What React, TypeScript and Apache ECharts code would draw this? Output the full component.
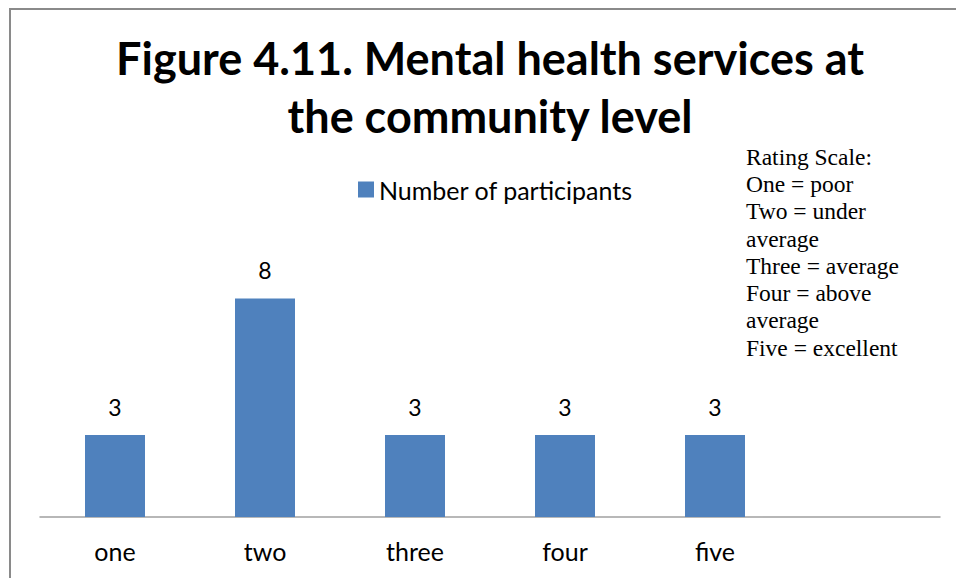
import React, { useEffect, useRef } from "react";
import * as echarts from "echarts";

const categories: string[] = ["one", "two", "three", "four", "five", ""];
const participants: (number | null)[] = [3, 8, 3, 3, 3, null];
const seriesName = "Number of participants";
const titleLines: string[] = ["Figure 4.11. Mental health services at", "the community level"];
const ratingScaleLines: string[] = [
  "Rating Scale:",
  "One = poor",
  "Two = under",
  "average",
  "Three = average",
  "Four = above",
  "average",
  "Five = excellent",
];

export default function App() {
  const ref = useRef<HTMLDivElement>(null);
  useEffect(() => {
    document.body.style.margin = "0";
    if (!ref.current) return;
    const chart = echarts.init(ref.current, null, { renderer: "svg" });
    chart.setOption({
      animation: false,
      backgroundColor: "#ffffff",
      title: {
        text: titleLines.join("\n"),
        left: 490,
        top: 29,
        textAlign: "center",
        padding: 0,
        textStyle: {
          fontFamily: "Lato",
          fontWeight: "bold",
          fontSize: 45,
          lineHeight: 58,
          color: "#000000",
        },
      },
      legend: {
        data: [seriesName],
        left: 358,
        top: 177,
        padding: 0,
        icon: "rect",
        itemWidth: 16,
        itemHeight: 16,
        itemGap: 5,
        textStyle: { fontFamily: "Lato", fontSize: 25, color: "#000000" },
      },
      grid: { left: 40, right: 16, top: 244, bottom: 61, containLabel: false },
      xAxis: {
        type: "category",
        data: categories,
        axisLine: { show: true, lineStyle: { color: "#a0a0a0", width: 1.5 } },
        axisTick: { show: false },
        axisLabel: { fontFamily: "Lato", fontSize: 25, color: "#000000", margin: 21, interval: 0 },
      },
      yAxis: {
        type: "value",
        min: 0,
        max: 10,
        show: false,
        splitLine: { show: false },
      },
      series: [
        {
          name: seriesName,
          type: "bar",
          data: participants,
          barWidth: 60,
          itemStyle: { color: "#4f81bd" },
          label: {
            show: true,
            position: "top",
            distance: 17,
            fontFamily: "Lato",
            fontSize: 23,
            color: "#000000",
          },
        },
      ],
      graphic: [
        {
          type: "polyline",
          shape: { points: [[10, 578], [10, 9], [956, 9]] },
          style: { stroke: "#8a8a8a", lineWidth: 2, fill: "none" },
          silent: true,
        },
        {
          type: "text",
          left: 746,
          top: 143,
          style: {
            text: ratingScaleLines.join("\n"),
            fontFamily: "Liberation Serif",
            fontSize: 23.5,
            lineHeight: 27.3,
            fill: "#000000",
          },
        },
      ],
    });
    return () => chart.dispose();
  }, []);
  return <div ref={ref} style={{ width: 956, height: 578 }} />;
}
